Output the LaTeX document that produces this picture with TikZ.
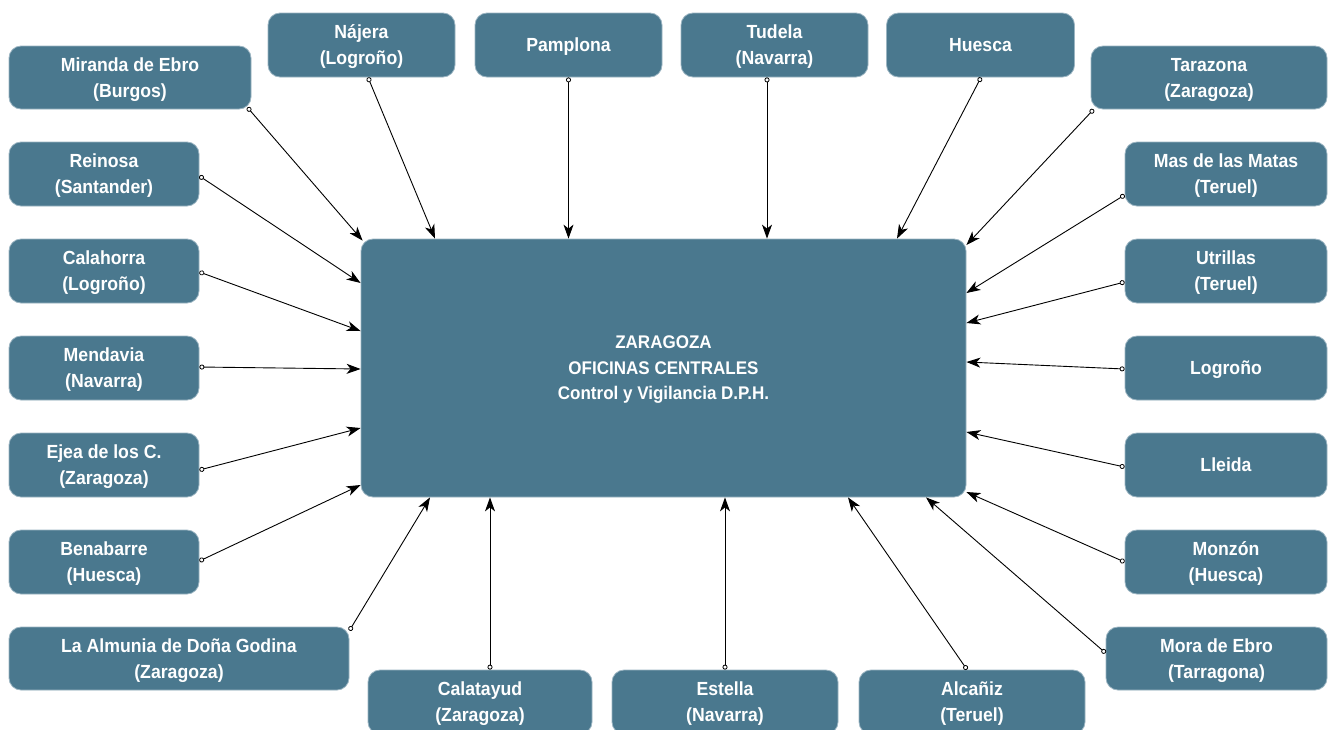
\documentclass[tikz,border=0pt]{standalone}
\usepackage{fontspec}
\setmainfont{Liberation Sans}[FakeStretch=0.93]
\usetikzlibrary{arrows.meta}
\definecolor{boxfill}{HTML}{4A788E}
\definecolor{boxline}{HTML}{9BB5C2}
\tikzset{
  place/.style={draw=boxline, line width=0.8pt, fill=boxfill, rounded corners=12pt,
    text=white, align=center, inner sep=0pt, minimum height=64pt, text depth=0pt,
    font=\bfseries\fontsize{19}{26}\selectfont},
  link/.style={line width=0.9pt, black,
    {Circle[open,length=5pt,width=5pt,line width=0.8pt]}-{Stealth[length=14pt,width=10pt,inset=4pt]}}
}
\begin{document}
\begin{tikzpicture}[x=1pt,y=-1pt]
\fill[white] (0,0) rectangle (1328,729);
\useasboundingbox (0,0) rectangle (1328,729);

% central box
\node[place, minimum width=605pt, minimum height=258pt, font=\bfseries\fontsize{18.3}{25.5}\selectfont]
  (zc) at (663.5,368) {ZARAGOZA\\OFICINAS CENTRALES\\Control y Vigilancia D.P.H.};

% top row
\node[place, minimum width=242pt, minimum height=63pt] (mir) at (130,77.5) {Miranda de Ebro\\(Burgos)};
\node[place, minimum width=187pt] (naj) at (361.5,45) {Nájera\\(Logroño)};
\node[place, minimum width=187pt] (pam) at (568.5,45) {Pamplona};
\node[place, minimum width=187pt] (tud) at (774.5,45) {Tudela\\(Navarra)};
\node[place, minimum width=188pt] (hue) at (980.5,45) {Huesca};
\node[place, minimum width=236pt, minimum height=63pt] (tar) at (1209,77.5) {Tarazona\\(Zaragoza)};

% left column
\node[place, minimum width=190pt] (rei) at (104,174) {Reinosa\\(Santander)};
\node[place, minimum width=190pt] (cal) at (104,271) {Calahorra\\(Logroño)};
\node[place, minimum width=190pt] (men) at (104,368) {Mendavia\\(Navarra)};
\node[place, minimum width=190pt] (eje) at (104,465) {Ejea de los C.\\(Zaragoza)};
\node[place, minimum width=190pt] (ben) at (104,562) {Benabarre\\(Huesca)};
\node[place, minimum width=340pt, minimum height=63pt] (alm) at (179,658.5) {La Almunia de Doña Godina\\(Zaragoza)};

% right column
\node[place, minimum width=202pt] (mas) at (1226,174) {Mas de las Matas\\(Teruel)};
\node[place, minimum width=202pt] (utr) at (1226,271) {Utrillas\\(Teruel)};
\node[place, minimum width=202pt] (log) at (1226,368) {Logroño};
\node[place, minimum width=202pt] (lle) at (1226,465) {Lleida};
\node[place, minimum width=202pt] (mon) at (1226,562) {Monzón\\(Huesca)};
\node[place, minimum width=221pt, minimum height=63pt] (mor) at (1216.5,658.5) {Mora de Ebro\\(Tarragona)};

% bottom row
\node[place, minimum width=224pt] (clt) at (480,702) {Calatayud\\(Zaragoza)};
\node[place, minimum width=226pt] (est) at (725,702) {Estella\\(Navarra)};
\node[place, minimum width=226pt] (alc) at (972,702) {Alcañiz\\(Teruel)};

% connectors
\draw[link] ([shift={(-4,-2)}]mir.south east) -- ([shift={(2,2)}]zc.north west);
\draw[link] (naj.south -| 368,0) -- (zc.north -| 435,0);
\draw[link] (pam.south) -- (zc.north -| pam.south);
\draw[link] (tud.south -| 767,0) -- (zc.north -| 767,0);
\draw[link] (hue.south -| 981,0) -- (zc.north -| 897,0);
\draw[link] ([shift={(3,0)}]tar.south west) -- (zc.east |- 0,245);

\draw[link] (rei.east |- 0,176) -- (zc.west |- 0,283);
\draw[link] (cal.east |- 0,272) -- (zc.west |- 0,331);
\draw[link] (men.east |- 0,367) -- (zc.west |- 0,369);
\draw[link] (eje.east |- 0,470) -- (zc.west |- 0,428);
\draw[link] (ben.east |- 0,561) -- (zc.west |- 0,485);
\draw[link] ([shift={(0,4)}]alm.north east) -- (zc.south -| 430,0);

\draw[link] (clt.north -| 490,0) -- (zc.south -| 490,0);
\draw[link] (est.north) -- (zc.south -| est.north);
\draw[link] (alc.north -| 967,0) -- (zc.south -| 848,0);
\draw[link] (mor.west |- 0,653) -- (zc.south -| 926,0);

\draw[link] (mas.west |- 0,195) -- (zc.east |- 0,293);
\draw[link] (utr.west |- 0,282) -- (zc.east |- 0,323);
\draw[link] (log.west |- 0,369) -- (zc.east |- 0,362);
\draw[link] (lle.west |- 0,467) -- (zc.east |- 0,432);
\draw[link] (mon.west |- 0,562) -- (zc.east |- 0,492);
\end{tikzpicture}
\end{document}
